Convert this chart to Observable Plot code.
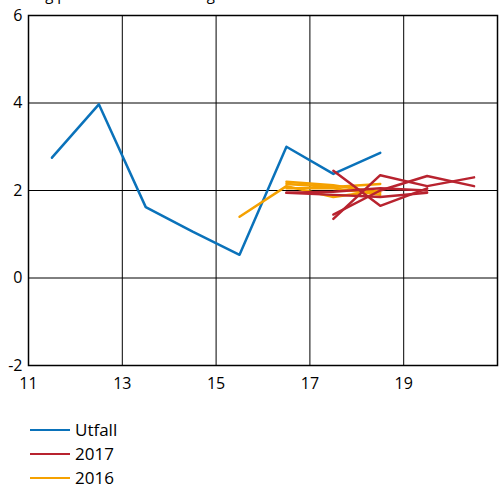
<!DOCTYPE html>
<html>
<head>
<meta charset="utf-8">
<script src="https://cdn.jsdelivr.net/npm/d3@7"></script>
<script src="https://cdn.jsdelivr.net/npm/@observablehq/plot@0.6"></script>
<style>
  html, body { margin: 0; padding: 0; background: #fff; }
  body { width: 499px; height: 488px; position: relative; overflow: hidden; font-family: "Open Sans", sans-serif; }
  #title { position: absolute; left: 22px; top: -15px; font-size: 15px; line-height: 18px; color: #000; white-space: nowrap; z-index: 2; }
  #chart { position: absolute; left: 0; top: 0; z-index: 1; }
  #legend { position: absolute; left: 30px; top: 418px; font-size: 17px; color: #000; z-index: 1; }
  .row { display: flex; align-items: center; height: 24px; line-height: 22px; }
  .sw { width: 40px; height: 0; border-top: 2.5px solid; margin-right: 5px; }
</style>
</head>
<body>
<div id="title">Årlig procentuell förändring</div>
<div id="chart"></div>
<div id="legend"></div>
<script>
// Tick labels
const xTicks = [11, 13, 15, 17, 19];
const yTicks = [-2, 0, 2, 4, 6];
const xGrid = [13, 15, 17, 19, 21];
const yGrid = [0, 2, 4];

// Series names and colours
const seriesNames = ["Utfall", "2017", "2016"];
const seriesColors = ["#0a72ba", "#b8232f", "#f5a100"];

// Utfall (outcome)
const utfallX = [11.5, 12.5, 13.5, 14.5, 15.5, 16.5, 17.5, 18.5];
const utfallY = [2.75, 3.97, 1.62, 1.06, 0.53, 3.0, 2.38, 2.86];

// 2016 forecast vintages
const f2016 = [
  { x: [15.5, 16.5, 17.5, 18.5], y: [1.40, 2.10, 1.85, 2.00] },
  { x: [16.5, 17.5, 18.5], y: [2.20, 2.12, 1.95] },
  { x: [16.5, 17.5, 18.5], y: [2.15, 2.08, 2.15] },
  { x: [16.5, 17.5, 18.5], y: [2.05, 2.05, 1.90] }
];

// 2017 forecast vintages
const f2017 = [
  { x: [16.5, 17.5, 18.5, 19.5], y: [1.95, 1.90, 1.85, 1.95] },
  { x: [16.5, 17.5, 18.5, 19.5], y: [1.95, 1.97, 2.05, 2.00] },
  { x: [17.5, 18.5, 19.5], y: [2.45, 1.65, 2.05] },
  { x: [17.5, 18.5, 19.5, 20.5], y: [1.35, 2.35, 2.10, 2.30] },
  { x: [17.5, 18.5, 19.5, 20.5], y: [1.45, 2.00, 2.33, 2.10] }
];

const toRows = (vintages, series) => vintages.flatMap((v, i) => v.x.map((x, j) => ({ series, id: series + "-" + i, x, y: v.y[j] })));
const utfall = utfallX.map((x, i) => ({ series: "Utfall", id: "u", x, y: utfallY[i] }));
const rows2016 = toRows(f2016, "2016");
const rows2017 = toRows(f2017, "2017");

const color = { domain: seriesNames, range: seriesColors };

const chart = Plot.plot({
  width: 499,
  height: 400,
  marginLeft: 28,
  marginRight: 2,
  marginTop: 15,
  marginBottom: 35,
  style: { fontFamily: "Open Sans, sans-serif", fontSize: "16px", color: "#000", background: "transparent" },
  x: { domain: [11, 21], label: null },
  y: { domain: [-2, 6], label: null },
  color,
  marks: [
    Plot.gridX(xGrid, { stroke: "#000", strokeOpacity: 1, strokeWidth: 1 }),
    Plot.gridY(yGrid, { stroke: "#000", strokeOpacity: 1, strokeWidth: 1 }),
    Plot.frame({ stroke: "#000", strokeWidth: 1.5 }),
    Plot.axisX(xTicks, { tickSize: 0, tickPadding: 12, fontSize: 16, tickFormat: d => String(d) }),
    Plot.axisY(yTicks, { tickSize: 0, tickPadding: 6, fontSize: 16, tickFormat: d => String(d) }),
    Plot.line(utfall, { x: "x", y: "y", z: "id", stroke: "series", strokeWidth: 2.5 }),
    Plot.line(rows2016, { x: "x", y: "y", z: "id", stroke: "series", strokeWidth: 2.5 }),
    Plot.line(rows2017, { x: "x", y: "y", z: "id", stroke: "series", strokeWidth: 2.5 })
  ]
});
document.getElementById("chart").appendChild(chart);

const legend = document.getElementById("legend");
seriesNames.forEach((name, i) => {
  const row = document.createElement("div");
  row.className = "row";
  const sw = document.createElement("span");
  sw.className = "sw";
  sw.style.borderTopColor = seriesColors[i];
  const t = document.createElement("span");
  t.textContent = name;
  row.appendChild(sw);
  row.appendChild(t);
  legend.appendChild(row);
});
</script>
</body>
</html>
